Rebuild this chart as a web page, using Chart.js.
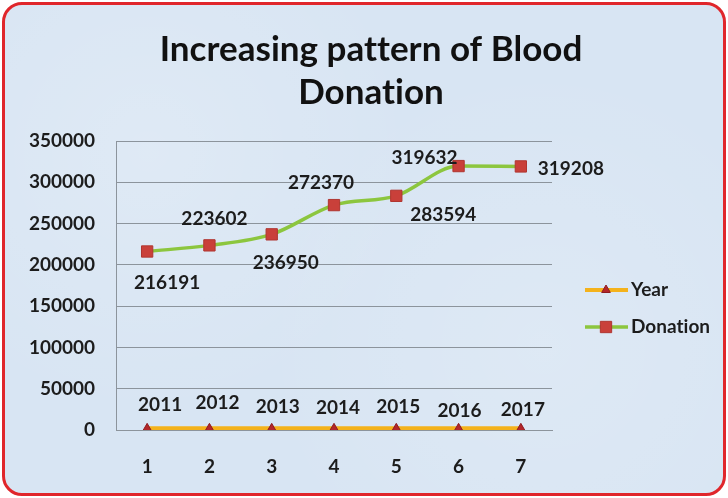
<!DOCTYPE html>
<html>
<head>
<meta charset="utf-8">
<script src="https://cdn.jsdelivr.net/npm/chart.js@4.4.1/dist/chart.umd.min.js"></script>
<style>
  html, body { margin: 0; padding: 0; background: #ffffff; }
  #frame {
    position: absolute; left: 2px; top: 2px; width: 724px; height: 494px;
    box-sizing: border-box; border: 3px solid #e0262b; border-radius: 20px;
    background-color: #d8e5f3;
    background-image:
      radial-gradient(circle at 20% 30%, rgba(255,255,255,0.18), rgba(255,255,255,0) 40%),
      radial-gradient(circle at 75% 70%, rgba(255,255,255,0.15), rgba(255,255,255,0) 45%);
  }
  #wrap { position: absolute; left: 0; top: 0; width: 728px; height: 498px; }
</style>
</head>
<body>
<div id="frame"></div>
<div id="wrap"><canvas id="c" width="728" height="498"></canvas></div>
<script>
const categories = ['1', '2', '3', '4', '5', '6', '7'];
const yearValues = [2011, 2012, 2013, 2014, 2015, 2016, 2017];
const donationValues = [216191, 223602, 236950, 272370, 283594, 319632, 319208];
const yTicks = [0, 50000, 100000, 150000, 200000, 250000, 300000, 350000];
const titleLines = ['Increasing pattern of Blood', 'Donation'];

const FONT = 'Lato, "Open Sans", sans-serif';
const TEXT = '#1c1c1c';

// label offsets (px) relative to each point, per dataset
const labelOffsets = [
  [[13,-23],[8,-25],[6,-21],[4,-20],[2,-21],[1,-17],[2,-18]],
  [[20,31],[5,-26],[14,29],[-13,-22],[47,19],[-34,-8],[50,2]]
];

const titlePlugin = {
  id: 'titleDraw',
  afterDraw(chart) {
    const ctx = chart.ctx;
    ctx.save();
    ctx.fillStyle = '#111';
    ctx.font = 'bold 35px ' + FONT;
    if ('letterSpacing' in ctx) ctx.letterSpacing = '0.01px';
    ctx.textAlign = 'center';
    ctx.textBaseline = 'middle';
    ctx.fillText(titleLines[0], 371, 50);
    ctx.fillText(titleLines[1], 371, 93);
    ctx.restore();
  }
};

const labelPlugin = {
  id: 'pointLabels',
  afterDatasetsDraw(chart) {
    const ctx = chart.ctx;
    ctx.save();
    ctx.fillStyle = TEXT;
    ctx.font = 'bold 19px ' + FONT;
    ctx.textAlign = 'center';
    ctx.textBaseline = 'middle';
    chart.data.datasets.forEach((ds, di) => {
      const meta = chart.getDatasetMeta(di);
      meta.data.forEach((pt, i) => {
        const off = labelOffsets[di][i];
        ctx.fillText(String(ds.data[i]), pt.x + off[0], pt.y + off[1]);
      });
    });
    ctx.restore();
  }
};

const legendPlugin = {
  id: 'customLegend',
  afterDraw(chart) {
    const ctx = chart.ctx;
    ctx.save();
    chart.data.datasets.forEach((ds, i) => {
      const y = 290 + i * 37;
      ctx.strokeStyle = ds.borderColor;
      ctx.lineWidth = ds.borderWidth;
      ctx.beginPath();
      ctx.moveTo(585, y);
      ctx.lineTo(628, y);
      ctx.stroke();
      ctx.fillStyle = ds.pointBackgroundColor;
      ctx.strokeStyle = ds.pointBorderColor;
      ctx.lineWidth = 1;
      Chart.helpers.drawPoint(ctx, {
        pointStyle: ds.pointStyle,
        radius: ds.pointRadius,
        borderWidth: 1,
        rotation: 0
      }, 606, y);
      ctx.fillStyle = TEXT;
      ctx.font = 'bold 19px ' + FONT;
      if ('letterSpacing' in ctx) ctx.letterSpacing = '0.01px';
      ctx.textAlign = 'left';
      ctx.textBaseline = 'middle';
      ctx.fillText(ds.label, 631, y);
    });
    ctx.restore();
  }
};

new Chart(document.getElementById('c'), {
  type: 'line',
  data: {
    labels: categories,
    datasets: [
      {
        label: 'Year',
        data: yearValues,
        borderColor: '#f4b21b',
        borderWidth: 4,
        pointStyle: 'triangle',
        pointRadius: 5,
        pointBackgroundColor: '#b3262a',
        pointBorderColor: '#8e1c20',
        pointBorderWidth: 1,
        tension: 0
      },
      {
        label: 'Donation',
        data: donationValues,
        borderColor: '#8cc63e',
        borderWidth: 3.5,
        pointStyle: 'rect',
        pointRadius: 8,
        pointBackgroundColor: '#c9403a',
        pointBorderColor: '#b03530',
        pointBorderWidth: 1,
        cubicInterpolationMode: 'monotone'
      }
    ]
  },
  options: {
    responsive: false,
    animation: false,
    layout: { padding: { top: 141, right: 176, bottom: 0, left: 0 } },
    plugins: { legend: { display: false }, title: { display: false }, tooltip: { enabled: false } },
    scales: {
      x: {
        offset: true,
        grid: { display: false, drawTicks: false },
        border: { display: true, color: '#8c949c', width: 1 },
        ticks: { color: TEXT, font: { family: FONT, size: 19, weight: 'bold' }, padding: 25 },
        afterFit(s) { s.height = 68; }
      },
      y: {
        min: 0,
        max: 350000,
        afterBuildTicks(s) { s.ticks = yTicks.map(v => ({ value: v })); },
        grid: { color: '#8c949c', lineWidth: 1, drawTicks: false },
        border: { display: true, color: '#8c949c', width: 1 },
        ticks: { color: TEXT, font: { family: FONT, size: 19, weight: 'bold' }, padding: 21, callback: v => String(v) },
        afterFit(s) { s.width = 116; }
      }
    }
  },
  plugins: [titlePlugin, labelPlugin, legendPlugin]
});
</script>
</body>
</html>
